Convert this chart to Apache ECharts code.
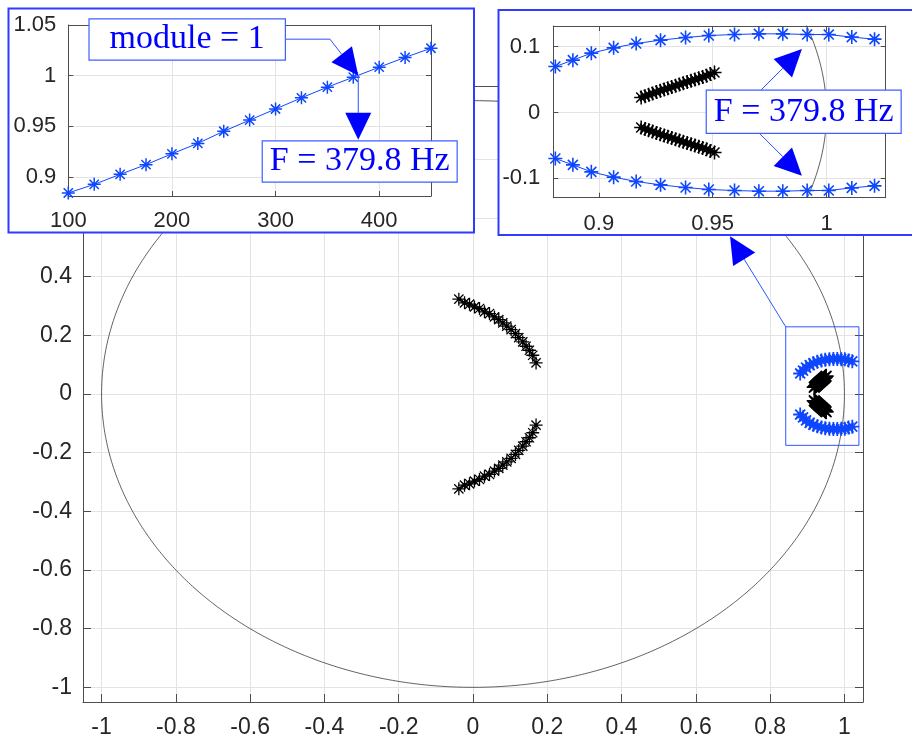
<!DOCTYPE html>
<html><head><meta charset="utf-8">
<script src="https://cdn.jsdelivr.net/npm/echarts@6/dist/echarts.min.js"></script>
<style>html,body{margin:0;padding:0;background:#fff}#c{width:912px;height:742px}</style>
</head><body><div id="c"></div><script>
// ---------------- data ----------------
const freqHz = [100,125,150,175,200,225,250,275,300,325,350,375,400,425,450];
const moduleValues = [0.884,0.8925,0.9024,0.912,0.9227,0.933,0.945,0.956,0.967,0.978,0.9886,0.9984,1.0083,1.018,1.027];

// blue poles (upper branch; lower branch is the conjugate)
const blueRe = [0.8809,0.8886,0.8967,0.9065,0.9164,0.9271,0.9381,0.9483,0.9596,0.9703,0.9808,0.9915,1.0010,1.0111,1.0211];
const blueIm = [0.0699,0.0796,0.0902,0.0983,0.1049,0.1100,0.1140,0.1170,0.1186,0.1196,0.1196,0.1186,0.1185,0.1146,0.1115];

// black cluster near 0.93 (upper; lower is conjugate)
const blackClusterRe = [0.9186,0.9203,0.9219,0.9236,0.9253,0.9270,0.9287,0.9303,0.9320,0.9337,0.9354,0.9371,0.9388,0.9405,0.9422,0.9439,0.9456,0.9473,0.9490,0.9508];
const blackClusterIm = [0.0228,0.0249,0.0270,0.0290,0.0310,0.0330,0.0350,0.0370,0.0389,0.0408,0.0427,0.0446,0.0465,0.0484,0.0503,0.0522,0.0541,0.0560,0.0584,0.0608];

// black arc near origin (upper; lower is conjugate)
const blackArcRe = [-0.0381,-0.0228,-0.0094,0.0040,0.0175,0.0309,0.0444,0.0578,0.0694,0.0802,0.0909,0.1026,0.1142,0.1232,0.1340,0.1429,0.1519,0.1608,0.1698];
const blackArcIm = [0.3232,0.3107,0.3061,0.2970,0.2914,0.2800,0.2743,0.2629,0.2538,0.2424,0.2311,0.2197,0.2060,0.1924,0.1776,0.1628,0.1491,0.1321,0.1059];

// tick values
const mainTicks = [-1,-0.8,-0.6,-0.4,-0.2,0,0.2,0.4,0.6,0.8,1];
const modXTicks = [100,200,300,400];
const modYTicks = [0.9,0.95,1,1.05];
const zoomXTicks = [0.9,0.95,1];
const zoomYTicks = [-0.1,0,0.1];

// zoom rectangle drawn in the main plot
const zoomRectX = [0.842,1.039];
const zoomRectY = [-0.175,0.229];

// annotation arrows: [x1, y1, x2, y2, hasHead]
const mainArrows = [[0.842,0.229,0.692,0.538,1]];
const moduleArrows = [[308.4,1.036,352.5,1.036,0],[352.5,1.036,379.8,1.0,1],[379.8,1.0,379.8,0.9365,1]];
const zoomArrows = [[0.9706,0.0319,0.9892,0.0964,1],[0.9706,-0.0319,0.9892,-0.0962,1]];

// unit circle (reference curve)
const unitCircleSteps = 720;
// ------------------------------------------------------------

const circle = [];
for (let i = 0; i <= unitCircleSteps; i++) {
  const t = 2 * Math.PI * i / unitCircleSteps;
  circle.push([Math.cos(t), Math.sin(t)]);
}
const pairs = (re, im) => re.map((x, i) => [x, im[i]]);
const conj = (re, im) => re.map((x, i) => [x, -im[i]]);

const AX = '#4d4d4d', LBL = '#262626', GRIDC = '#e3e3e3';
const BLUE = '#0f47ff';
const STAR = 'path://M8,0L8,16M0,8L16,8M2.3,2.3L13.7,13.7M2.3,13.7L13.7,2.3';

function mkAxis(kind, grid, min, max, ticks, pos, primary, fs, margin, tickLen, z) {
  return {
    type: 'value', gridIndex: grid, position: pos, min: min, max: max, z: z,
    axisLine: {show: true, onZero: false, lineStyle: {color: AX, width: 1}},
    axisTick: {show: true, inside: true, length: tickLen, customValues: ticks, lineStyle: {color: AX, width: 1}},
    axisLabel: {show: primary, customValues: ticks, fontFamily: 'Liberation Sans', fontSize: fs, color: LBL, margin: margin},
    splitLine: {show: primary, customValues: ticks, lineStyle: {color: GRIDC, width: 1}}
  };
}

function starLine(xi, yi, data, color, size, z, lineW, bw) {
  return {
    type: 'line', xAxisIndex: xi, yAxisIndex: yi, data: data,
    symbol: STAR, symbolSize: size, showSymbol: true, showAllSymbol: true,
    itemStyle: {color: 'rgba(0,0,0,0)', borderColor: color, borderWidth: bw},
    lineStyle: {color: color, width: lineW}, z: z, silent: true, animation: false
  };
}

function arrowSeries(xi, yi, data, z, lineColor) {
  return {
    type: 'custom', xAxisIndex: xi, yAxisIndex: yi, data: data, z: z, clip: false, silent: true,
    encode: {x: [0, 2], y: [1, 3]},
    renderItem: function (params, api) {
      const p0 = api.coord([api.value(0), api.value(1)]);
      const p1 = api.coord([api.value(2), api.value(3)]);
      const head = api.value(4) > 0;
      const dx = p1[0] - p0[0], dy = p1[1] - p0[1];
      const len = Math.sqrt(dx * dx + dy * dy) || 1;
      const ux = dx / len, uy = dy / len;
      const L = 27, W = 26;
      const bx = head ? p1[0] - ux * L : p1[0];
      const by = head ? p1[1] - uy * L : p1[1];
      const children = [{
        type: 'line', shape: {x1: p0[0], y1: p0[1], x2: bx, y2: by},
        style: {stroke: lineColor, lineWidth: 1}
      }];
      if (head) {
        children.push({
          type: 'polygon',
          shape: {points: [[p1[0], p1[1]], [bx - uy * W / 2, by + ux * W / 2], [bx + uy * W / 2, by - ux * W / 2]]},
          style: {fill: '#0000ff'}
        });
      }
      return {type: 'group', children: children};
    }
  };
}

const chart = echarts.init(document.getElementById('c'), null, {renderer: 'canvas'});
const option = {
  animation: false,
  backgroundColor: '#ffffff',
  grid: [
    {left: 83, top: 86, width: 780, height: 616, outerBoundsMode: 'none', containLabel: false},
    {left: 68.3, top: 25, width: 362.7, height: 171, outerBoundsMode: 'none', containLabel: false},
    {left: 553.3, top: 26, width: 332.4, height: 171.7, outerBoundsMode: 'none', containLabel: false}
  ],
  xAxis: [
    mkAxis('x', 0, -1.05, 1.05, mainTicks, 'bottom', true, 23, 14, 8, 0),
    mkAxis('x', 0, -1.05, 1.05, mainTicks, 'top', false, 23, 14, 8, 0),
    mkAxis('x', 1, 100, 450, modXTicks, 'bottom', true, 22, 14, 5, 60),
    mkAxis('x', 1, 100, 450, modXTicks, 'top', false, 22, 14, 5, 60),
    mkAxis('x', 2, 0.88, 1.026, zoomXTicks, 'bottom', true, 22, 15, 5, 60),
    mkAxis('x', 2, 0.88, 1.026, zoomXTicks, 'top', false, 22, 15, 5, 60)
  ],
  yAxis: [
    mkAxis('y', 0, -1.05, 1.05, mainTicks, 'left', true, 23, 11, 8, 0),
    mkAxis('y', 0, -1.05, 1.05, mainTicks, 'right', false, 23, 11, 8, 0),
    mkAxis('y', 1, 0.881, 1.05, modYTicks, 'left', true, 22, 12, 5, 60),
    mkAxis('y', 1, 0.881, 1.05, modYTicks, 'right', false, 22, 12, 5, 60),
    mkAxis('y', 2, -0.1295, 0.1315, zoomYTicks, 'left', true, 22, 13, 5, 60),
    mkAxis('y', 2, -0.1295, 0.1315, zoomYTicks, 'right', false, 22, 13, 5, 60)
  ],
  graphic: {elements: [
    {type: 'rect', z: 50, silent: true, shape: {x: 8.5, y: 8.5, width: 465.5, height: 224},
     style: {fill: '#ffffff', stroke: '#2f3cff', lineWidth: 2}},
    {type: 'rect', z: 50, silent: true, shape: {x: 498.5, y: 10, width: 440, height: 225},
     style: {fill: '#ffffff', stroke: '#2f3cff', lineWidth: 2}},
    {type: 'text', z: 95, silent: true, x: 187.2, y: 39.5,
     style: {text: 'module = 1', font: '34px "Liberation Serif"', fill: '#0000ff', align: 'center', verticalAlign: 'middle',
             backgroundColor: '#ffffff', borderColor: '#3f5fff', borderWidth: 1.2, padding: [3, 20]}},
    {type: 'text', z: 95, silent: true, x: 359.7, y: 161.5,
     style: {text: 'F = 379.8 Hz', font: '34px "Liberation Serif"', fill: '#0000ff', align: 'center', verticalAlign: 'middle',
             backgroundColor: '#ffffff', borderColor: '#3f5fff', borderWidth: 1.2, padding: [3, 7]}},
    {type: 'text', z: 95, silent: true, x: 803.7, y: 111.7,
     style: {text: 'F = 379.8 Hz', font: '34px "Liberation Serif"', fill: '#0000ff', align: 'center', verticalAlign: 'middle',
             backgroundColor: '#ffffff', borderColor: '#3f5fff', borderWidth: 1.2, padding: [4, 7]}}
  ]},
  series: [
    // main plot
    {type: 'line', xAxisIndex: 0, yAxisIndex: 0, data: circle, symbol: 'none', silent: true,
     lineStyle: {color: '#3a3a3a', width: 0.8}, z: 2},
    starLine(0, 0, pairs(blackArcRe, blackArcIm), '#000000', 13, 3, 1, 1.3),
    starLine(0, 0, conj(blackArcRe, blackArcIm), '#000000', 13, 3, 1, 1.3),
    starLine(0, 0, pairs(blackClusterRe, blackClusterIm), '#000000', 15, 3, 1, 1.6),
    starLine(0, 0, conj(blackClusterRe, blackClusterIm), '#000000', 15, 3, 1, 1.6),
    starLine(0, 0, pairs(blueRe, blueIm), BLUE, 14, 4, 1, 1.8),
    starLine(0, 0, conj(blueRe, blueIm), BLUE, 14, 4, 1, 1.8),
    {type: 'line', xAxisIndex: 0, yAxisIndex: 0, symbol: 'none', silent: true, z: 5,
     data: [[zoomRectX[0], zoomRectY[0]], [zoomRectX[1], zoomRectY[0]], [zoomRectX[1], zoomRectY[1]], [zoomRectX[0], zoomRectY[1]], [zoomRectX[0], zoomRectY[0]]],
     lineStyle: {color: '#2f55ff', width: 1}},
    arrowSeries(0, 0, mainArrows, 6, '#2458ff'),
    // module inset
    starLine(2, 2, pairs(freqHz, moduleValues), BLUE, 13, 70, 1, 1.5),
    arrowSeries(2, 2, moduleArrows, 85, '#2a50ff'),
    // zoom inset
    {type: 'line', xAxisIndex: 4, yAxisIndex: 4, data: circle, symbol: 'none', silent: true,
     lineStyle: {color: '#3a3a3a', width: 0.8}, z: 65},
    starLine(4, 4, pairs(blackClusterRe, blackClusterIm), '#000000', 14, 70, 1, 1.5),
    starLine(4, 4, conj(blackClusterRe, blackClusterIm), '#000000', 14, 70, 1, 1.5),
    starLine(4, 4, pairs(blueRe, blueIm), BLUE, 14, 71, 1, 1.6),
    starLine(4, 4, conj(blueRe, blueIm), BLUE, 14, 71, 1, 1.6),
    arrowSeries(4, 4, zoomArrows, 85, '#2a50ff')
  ]
};
chart.setOption(option);
</script></body></html>
